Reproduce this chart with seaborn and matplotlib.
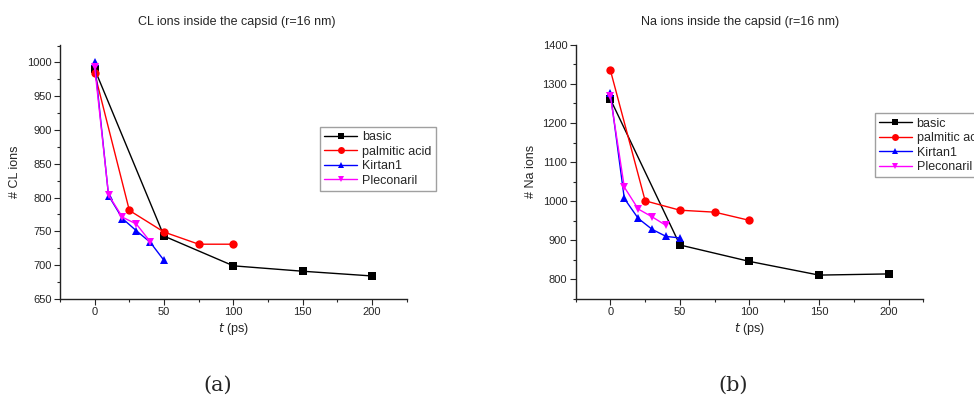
import matplotlib
matplotlib.use("Agg")
import matplotlib.pyplot as plt
import seaborn as sns
import pandas as pd
from matplotlib.ticker import MultipleLocator

sns.set_style("ticks")
plt.rcParams['font.family'] = ['Liberation Sans', 'DejaVu Sans']

series_names = ["basic", "palmitic acid", "Kirtan1", "Pleconaril"]

# CL ions
cl_basic_t = [0, 50, 100, 150, 200]
cl_basic_n = [990, 743, 699, 691, 684]
cl_palm_t = [0, 25, 50, 75, 100]
cl_palm_n = [984, 781, 749, 731, 731]
cl_kirt_t = [0, 10, 20, 30, 40, 50]
cl_kirt_n = [1000, 803, 769, 751, 734, 707]
cl_plec_t = [0, 10, 20, 30, 40]
cl_plec_n = [993, 804, 771, 761, 735]

# Na ions
na_basic_t = [0, 50, 100, 150, 200]
na_basic_n = [1261, 888, 846, 811, 814]
na_palm_t = [0, 25, 50, 75, 100]
na_palm_n = [1335, 1001, 977, 972, 951]
na_kirt_t = [0, 10, 20, 30, 40, 50]
na_kirt_n = [1276, 1007, 956, 928, 910, 906]
na_plec_t = [0, 10, 20, 30, 40]
na_plec_n = [1268, 1036, 980, 960, 938]

titles = ["CL ions inside the capsid (r=16 nm)", "Na ions inside the capsid (r=16 nm)"]
ylabels = ["# CL ions", "# Na ions"]
captions = ["(a)", "(b)"]

palette = {"basic": "black", "palmitic acid": "#ff0000", "Kirtan1": "#0000ff", "Pleconaril": "#ff00ff"}
markers = {"basic": "s", "palmitic acid": "o", "Kirtan1": "^", "Pleconaril": "v"}


def make_df(groups):
    rows = []
    for name, (ts, ns) in zip(series_names, groups):
        for t, n in zip(ts, ns):
            rows.append({"t": t, "n": n, "series": name})
    return pd.DataFrame(rows)


df_cl = make_df([(cl_basic_t, cl_basic_n), (cl_palm_t, cl_palm_n),
                 (cl_kirt_t, cl_kirt_n), (cl_plec_t, cl_plec_n)])
df_na = make_df([(na_basic_t, na_basic_n), (na_palm_t, na_palm_n),
                 (na_kirt_t, na_kirt_n), (na_plec_t, na_plec_n)])

fig = plt.figure(figsize=(9.74, 3.97), dpi=100)
ax1 = fig.add_axes([0.0616, 0.247, 0.356, 0.640])
ax2 = fig.add_axes([0.591, 0.247, 0.357, 0.640])

configs = [
    (ax1, df_cl, (650, 1026), 50, 25, (0.3285, 0.681), 0.51),
    (ax2, df_na, (750, 1400), 100, 50, (0.898, 0.715), 0.473),
]

for i, (ax, df, ylim, ymaj, ymin, legpos, tx) in enumerate(configs):
    sns.lineplot(data=df, x="t", y="n", hue="series", style="series",
                 hue_order=series_names, style_order=series_names,
                 palette=palette, markers=markers, dashes=False,
                 markersize=6, markeredgewidth=0, linewidth=1.0,
                 sort=False, ax=ax)
    ax.set_xlim(-25, 225)
    ax.set_ylim(*ylim)
    ax.xaxis.set_major_locator(MultipleLocator(50))
    ax.xaxis.set_minor_locator(MultipleLocator(25))
    ax.yaxis.set_major_locator(MultipleLocator(ymaj))
    ax.yaxis.set_minor_locator(MultipleLocator(ymin))
    ax.tick_params(which="major", direction="out", length=4, width=0.8, labelsize=8, pad=2)
    ax.tick_params(which="minor", direction="out", length=2.5, width=0.8)
    for s in ["top", "right"]:
        ax.spines[s].set_visible(False)
    for s in ["left", "bottom"]:
        ax.spines[s].set_linewidth(1.0)
        ax.spines[s].set_color("#222222")
    ax.set_xlabel(r"$t$ (ps)", fontsize=9, labelpad=3)
    ax.set_ylabel(ylabels[i], fontsize=9)
    ax.set_title(titles[i], fontsize=9, pad=14, x=tx)
    ax.legend_.remove()
    handles, labels = ax.get_legend_handles_labels()
    for h in handles:
        h.set_markersize(5)
    fig.legend(handles, labels, loc="upper left", bbox_to_anchor=legpos,
               bbox_transform=fig.transFigure, fontsize=9, frameon=True,
               fancybox=False, edgecolor="#888888", borderaxespad=0,
               handlelength=2.6, handletextpad=0.4, labelspacing=0.2,
               borderpad=0.35)

fig.text(0.224, 0.015, captions[0], fontsize=15, family="DejaVu Serif", ha="center")
fig.text(0.753, 0.015, captions[1], fontsize=15, family="DejaVu Serif", ha="center")

fig.savefig("out.png", dpi=100)
